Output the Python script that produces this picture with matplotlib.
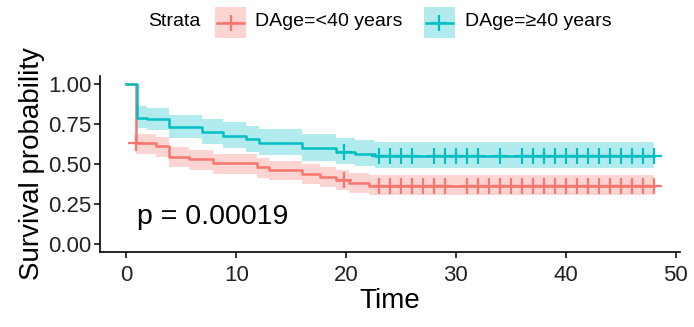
import numpy as np
import matplotlib
matplotlib.use("Agg")
import matplotlib.pyplot as plt
from matplotlib.patches import Rectangle
from matplotlib.lines import Line2D

plt.rcParams['font.family'] = ['Liberation Sans', 'DejaVu Sans']

# survival curves
red_time  = [0, 0.85, 2.7, 3.9, 5.7, 7.9, 11.9, 13.0, 16.0, 17.6, 19.1, 20.3, 22.1, 48]
red_surv  = [1.0, 0.63, 0.61, 0.545, 0.53, 0.505, 0.48, 0.462, 0.44, 0.42, 0.398, 0.383, 0.365, 0.365]
red_upper = [1.0, 0.69, 0.67, 0.605, 0.59, 0.565, 0.54, 0.52, 0.50, 0.48, 0.46, 0.445, 0.43, 0.43]
red_lower = [1.0, 0.565, 0.545, 0.48, 0.465, 0.44, 0.415, 0.40, 0.375, 0.355, 0.335, 0.32, 0.305, 0.305]
red_cens  = [0.85, 19.8, 23, 24, 25, 26, 27, 28, 29, 31, 32, 33, 34, 35, 36, 37, 38,
             39, 40, 41, 42, 43, 44, 45, 46, 47, 48]

cyan_time  = [0, 1.0, 1.9, 3.9, 6.9, 8.8, 10.9, 12.1, 16.0, 19.1, 20.8, 22.6, 48]
cyan_surv  = [1.0, 0.79, 0.78, 0.73, 0.70, 0.677, 0.655, 0.633, 0.60, 0.577, 0.56, 0.55, 0.55]
cyan_upper = [1.0, 0.86, 0.85, 0.805, 0.78, 0.76, 0.74, 0.72, 0.685, 0.665, 0.65, 0.635, 0.635]
cyan_lower = [1.0, 0.725, 0.715, 0.66, 0.625, 0.60, 0.575, 0.555, 0.52, 0.50, 0.485, 0.475, 0.475]
cyan_cens  = [19.8, 23, 24, 25, 26, 28, 29, 30, 31, 32, 34, 36, 37, 38, 39, 40, 41,
              42, 43, 44, 45, 46, 47, 48]

labels = ["DAge=<40 years", "DAge=\u226540 years"]
colors = ["#F8766D", "#00BFC4"]
pval = "p = 0.00019"


def step_at(times, surv, t):
    idx = np.searchsorted(times, t, side='right') - 1
    return np.asarray(surv)[idx]


fig = plt.figure(figsize=(6.94, 3.27), dpi=100)
ax = fig.add_axes([0.144, 0.229, 0.836, 0.539])

groups = [(red_time, red_surv, red_lower, red_upper, red_cens),
          (cyan_time, cyan_surv, cyan_lower, cyan_upper, cyan_cens)]
for (t, s, lo, up, cens), col in zip(groups, colors):
    ax.fill_between(t, lo, up, step='post', color=col, alpha=0.3, lw=0)
    ax.step(t, s, where='post', color=col, lw=1.8)
    ax.plot(cens, step_at(t, s, cens), ls='none', marker='+', ms=11, mew=1.6, color=col)

ax.text(1.0, 0.125, pval, fontsize=20.5, ha='left', va='baseline')

ax.set_xlim(-2.4, 50.4)
ax.set_ylim(-0.05, 1.05)
ax.set_xticks([0, 10, 20, 30, 40, 50])
ax.set_yticks([0, 0.25, 0.5, 0.75, 1.0])
ax.set_yticklabels(["0.00", "0.25", "0.50", "0.75", "1.00"])
ax.tick_params(labelsize=16, length=4, width=1.1, colors='black', labelcolor='#222222')
ax.tick_params(axis='x', pad=5)
ax.tick_params(axis='y', pad=2)
for side in ['top', 'right']:
    ax.spines[side].set_visible(False)
for side in ['left', 'bottom']:
    ax.spines[side].set_linewidth(1.2)
ax.set_xlabel("Time", fontsize=20, labelpad=2)
ax.set_ylabel("Survival probability", fontsize=20, labelpad=2)

# legend on top
fig.text(148 / 694, 1 - 22 / 327, "Strata", fontsize=14, va='center', ha='left')
key_x = [215, 424]
text_x = [255, 465]
for kx, tx, col, lab in zip(key_x, text_x, colors, labels):
    x0 = kx / 694
    w = 31 / 694
    y0 = 1 - 38 / 327
    h = 31 / 327
    fig.add_artist(Rectangle((x0, y0), w, h, transform=fig.transFigure,
                             facecolor=col, alpha=0.3, lw=0))
    fig.add_artist(Line2D([x0 + 2 / 694, x0 + w - 2 / 694], [y0 + h / 2] * 2,
                          transform=fig.transFigure, color=col, lw=1.8))
    fig.add_artist(Line2D([x0 + w / 2], [y0 + h / 2], transform=fig.transFigure,
                          color=col, marker='+', ms=12, mew=1.6))
    fig.text(tx / 694, 1 - 22 / 327, lab, fontsize=14, va='center', ha='left')

fig.savefig("out.png", dpi=100)
